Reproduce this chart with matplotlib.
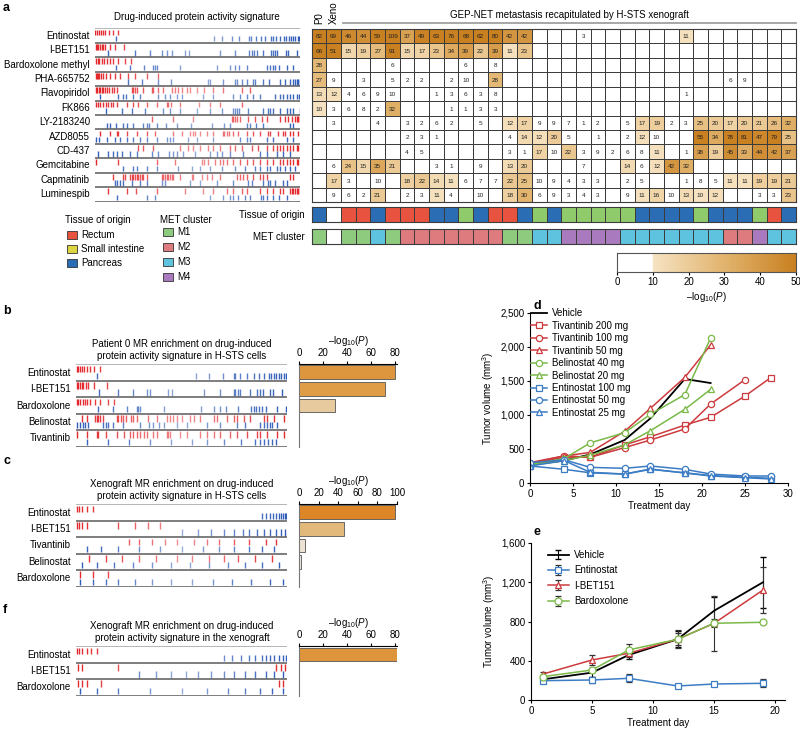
import numpy as np
import matplotlib
matplotlib.use("Agg")
import matplotlib.pyplot as plt
from matplotlib.colors import LinearSegmentedColormap, ListedColormap, to_rgba
from matplotlib.patches import Rectangle

W, H = 800, 735
plt.rcParams.update({
    "font.family": ["Liberation Sans", "DejaVu Sans"],
    "font.size": 6.5,
    "mathtext.fontset": "custom",
    "mathtext.rm": "Liberation Sans",
    "mathtext.it": "Liberation Sans:italic",
    "axes.linewidth": 0.8,
    "xtick.major.width": 0.8,
    "ytick.major.width": 0.8,
    "xtick.major.size": 2.5,
    "ytick.major.size": 2.5,
})
NEGLOG = "\u2013log$_{10}$($P$)"

# ---------------- panel a data ----------------
DRUGS_A = ["Entinostat", "I-BET151", "Bardoxolone methyl", "PHA-665752", "Flavopiridol", "FK866",
           "LY-2183240", "AZD8055", "CD-437", "Gemcitabine", "Capmatinib", "Luminespib"]

# rank positions (percent of signature) of the red (up) and blue (down) MRs
RED_A = [
    [0, 1, 2, 3, 4, 5, 7, 9, 11],
    [0.3, 1, 1.6, 2.4, 3.3, 4, 5, 7.3, 9.8, 14],
    [0.5, 1.3, 2.1, 3.3, 4.4, 5.7, 7.3, 8.9, 11.4, 14.6, 17.4],
    [0.3, 0.8, 1.5, 2.1, 2.9, 4.1, 5.4, 7.3, 9.8, 12.2, 16.3, 19.5, 25.2, 30.9],
    [0.3, 1.1, 1.8, 2.4, 3.3, 4.1, 4.9, 5.7, 7, 8.1, 9.3, 10.6, 17.9, 18.7, 19.5, 20.3, 23.6, 27.6,
     28.5, 30.9, 33.3, 37.4, 39, 40.7, 42.3, 44.7, 46.3, 49.9, 53.2, 57.7, 62.3, 71.5, 75.6],
    [0.5, 1.6, 2.4, 3.7, 5.4, 6.5, 7.6, 8.9, 10.6, 15.4, 18.7, 20.8, 25.2, 30.1, 35, 35.8, 36.9,
     41.5, 50.9, 56.1, 61, 71.5],
    [27.6, 38.2, 48, 66.7, 67.5, 68.3, 69.4, 70.7, 74.8, 78, 81.3, 83.7, 90.2, 92.7, 94.3, 95.9,
     97.6, 98.4, 99.2, 100],
    [2.4, 7.3, 10.6, 11.4, 15.4, 20.3, 25.2, 29.3, 38.2, 42.3, 46.3, 47.6, 48.8, 51.2, 54.5, 57.7,
     62.3, 62.9, 64.2, 65.5, 67.5, 69.9, 74, 77.2, 80.5, 84.6, 85.4, 89.4, 91.9, 92.7, 95.1, 96.7, 99.2],
    [21.1, 23.6, 28.5, 41.5, 45.5, 48, 51.2, 55.3, 57.7, 61, 65.9, 68.3, 71.5, 76.4, 79.7, 83.7, 87,
     88.6, 90.2, 91.9, 93.5, 95.1, 96.7, 98.4, 99.2],
    [0.5, 11.4, 30.1, 39, 52, 53.2, 55.3, 58.5, 61, 62.6, 64.2, 67.5, 70.7, 74, 77.2, 80.5, 83.7, 87,
     90.2, 91.9, 93.5, 95.1, 96.7, 98.4, 99.2],
    [8.9, 13.5, 14.6, 17.1, 17.9, 18.7, 19.5, 20.3, 21.1, 22, 22.8, 23.6, 25.2, 32.5, 33.3, 34.1, 35,
     35.8, 36.6, 37.4, 38.2, 41.5, 47.2, 48, 52, 54.5, 56.9, 61, 69.1, 70.7, 72.4, 74, 77.2, 80.5,
     82.1, 83.7, 95.1, 96.7],
    [6.5, 15.4, 20, 30.1, 43.9, 52.5, 57.7, 64.2, 67.5, 71.5, 74, 80.5, 83.7, 87, 90.2, 91.9, 95.1,
     95.9, 96.7, 97.6, 98.4, 99.2, 100],
]
BLUE_A = [
    [10, 58, 62, 67, 70, 75, 76, 78.5, 81, 83, 86, 87, 88.5, 90, 92, 93, 94.5, 95.5, 96.5, 97.5, 99, 99.7],
    [6.5, 19.5, 26.8, 32.5, 35, 37.4, 43.9, 46, 61, 68.3, 75.3, 76.4, 77.6, 78.9, 82.1, 85.7, 86.7,
     87.8, 88.6, 93.2, 94.3, 98.4],
    [10.2, 17.1, 23.9, 28.1, 29.3, 30.1, 41.5, 59.3, 65.9, 68.3, 70.4, 74, 83.7, 85.4, 86.7, 87.8,
     89.9, 93.8, 96.4],
    [16.3, 22.8, 30.9, 36.9, 55.3, 56.1, 62.3, 68.3, 69.4, 71.5, 74, 77.2, 78, 82.1, 85, 90.2, 92.7,
     95.1, 96.4, 97.6, 98.4, 99.2, 100],
    [2.4, 11.4, 13.5, 15.1, 18.7, 22, 30.9, 34.1, 36.6, 39.8, 42.3, 52.8, 57.7, 67.5, 70.7, 74, 77.2,
     80.5, 87.8, 90.2, 91.9, 93.5, 95.1, 96.7, 98.4, 99.7],
    [5.4, 13, 17.9, 24.4, 33.3, 36.6, 41.5, 49.6, 56.1, 61.8, 67.2, 68.3, 69.4, 70.4, 74.8, 82.1,
     84.6, 85.4, 87, 90.2, 93.5, 95.1, 96.7, 100],
    [6, 7.3, 10.2, 13.8, 15.4, 18.7, 23.3, 25.2, 26.5, 30.1, 34.6, 39.8, 46.7, 56.9, 62.9, 65.9, 74,
     75.6, 78.5, 82.1, 95.1, 96.7],
    [0.5, 2.1, 5.7, 9.8, 12.2, 15.4, 18.7, 22, 25.2, 30.1, 35, 36.6, 38.2, 45.5, 49.6, 57.7, 70.7, 74,
     75.6, 83.7, 87, 93.5, 96.7],
    [1.6, 6.5, 8.9, 10.6, 13, 17.1, 20.3, 27.6, 30.9, 36.3, 37.9, 39.8, 43.1, 48.8, 56.1, 59.3, 61.8,
     65.9, 72.4, 80.5, 83.7, 88.6, 91.9, 95.1],
    [13.5, 18.4, 20.3, 25.2, 30.1, 40.7, 47.2, 51.2, 56.1, 61.8, 68.3, 73.2, 78, 80.5, 83.7, 85.4,
     88.6, 90.2, 92.7, 95.1, 97.6],
    [9.8, 10.6, 12.2, 13.5, 17.9, 22, 25.2, 32.5, 34.1, 46.3, 51.2, 59.3, 67.5, 74.8, 76.4, 82.1,
     84.6, 85.4, 87.8, 91.9, 93.8],
    [10.6, 25.2, 29.3, 56.1, 62.6, 65.9, 67.5, 69.9, 73.2, 75.6, 80.8, 82.1, 83.7, 87, 89.9, 93.5],
]

# -log10(P) per drug (rows) and sample (columns: P0, Xeno, 31 metastases); 0 = not significant
HEAT = [
    [82, 99, 46, 44, 59, 109, 37, 49, 63, 76, 68, 62, 80, 42, 42, 0, 0, 0, 3, 0, 0, 0, 0, 0, 0, 11, 0, 0, 0, 0, 0, 0, 0],
    [66, 51, 15, 19, 27, 91, 15, 17, 23, 34, 39, 22, 39, 11, 23, 0, 0, 0, 0, 0, 0, 0, 0, 0, 0, 0, 0, 0, 0, 0, 0, 0, 0],
    [28, 0, 0, 0, 0, 6, 0, 0, 0, 0, 6, 0, 8, 0, 0, 0, 0, 0, 0, 0, 0, 0, 0, 0, 0, 0, 0, 0, 0, 0, 0, 0, 0],
    [27, 9, 0, 3, 0, 5, 2, 2, 0, 2, 9.6, 0, 28, 0, 0, 0, 0, 0, 0, 0, 0, 0, 0, 0, 0, 0, 0, 0, 6, 9, 0, 0, 0],
    [13, 12, 4, 6, 9, 9.6, 0, 0, 1, 3, 6, 3, 8, 0, 0, 0, 0, 0, 0, 0, 0, 0, 0, 0, 0, 1, 0, 0, 0, 0, 0, 0, 0],
    [10.4, 3, 6, 8, 2, 32, 0, 0, 0, 1, 1, 3, 3, 0, 0, 0, 0, 0, 0, 0, 0, 0, 0, 0, 0, 0, 0, 0, 0, 0, 0, 0, 0],
    [0, 3, 0, 0, 4, 0, 3, 2, 6, 2, 0, 5, 0, 12, 17, 9, 9, 7, 1, 2, 0, 5, 17, 19, 2, 3, 25, 20, 17, 20, 21, 26, 32],
    [0, 0, 0, 0, 0, 0, 2, 3, 1, 0, 0, 0, 0, 4, 14, 12, 20, 5, 0, 1, 0, 2, 12, 9.6, 0, 0, 55, 34, 78, 81, 47, 79, 25],
    [0, 0, 0, 0, 0, 0, 4, 5, 0, 0, 0, 0, 0, 3, 1, 17, 9.6, 22, 3, 9, 2, 6, 8, 11, 0, 1, 38, 19, 45, 33, 44, 42, 37],
    [0, 6, 24, 15, 35, 21, 0, 0, 3, 1, 0, 9, 0, 13, 20, 0, 0, 0, 7, 0, 0, 14, 6, 12, 42, 32, 0, 0, 0, 0, 0, 0, 0],
    [0, 17, 3, 0, 9.6, 0, 18, 22, 14, 11, 6, 7, 7, 22, 25, 9.6, 9, 4, 3, 3, 0, 2, 5, 0, 0, 1, 8, 5, 11, 11, 19, 19, 21],
    [0, 9, 6, 2, 21, 0, 2, 3, 11, 4, 0, 9.6, 0, 18, 30, 6, 9, 3, 4, 3, 0, 9, 11, 16, 9.6, 13, 10.4, 12, 0, 0, 3, 3, 23],
]
# 0 blank, 1 rectum, 2 small intestine, 3 pancreas
TISSUE = [3, 0, 1, 1, 3, 1, 1, 1, 3, 3, 2, 3, 1, 1, 3, 2, 3, 2, 2, 2, 2, 2, 3, 3, 3, 3, 2, 3, 3, 3, 2, 1, 3]
# 0 blank, 1..4 = M1..M4
MET = [1, 0, 1, 1, 3, 1, 2, 2, 2, 2, 2, 2, 2, 1, 1, 3, 3, 4, 4, 4, 4, 3, 3, 3, 3, 3, 3, 3, 2, 2, 4, 3, 3]
TISSUE_NAMES = ["Rectum", "Small intestine", "Pancreas"]
MET_NAMES = ["M1", "M2", "M3", "M4"]

# ---------------- panels b, c, f data ----------------
DRUGS_B = ["Entinostat", "I-BET151", "Bardoxolone", "Belinostat", "Tivantinib"]
SCORE_B = [80, 72, 30, 0, 0]
RED_B = [
    [0.3, 1.1, 1.9, 2.7, 3.8, 5.1, 6.6, 8.5, 11.4],
    [0.3, 1.1, 1.9, 2.7, 3.5, 4.7, 5.9, 8.5, 14.9],
    [0.3, 1.1, 1.9, 3.2, 4.3, 5.4, 6.6, 9, 11.4, 15.3, 18],
    [2.7, 5.4, 9, 9.8, 10.6, 11.4, 13, 19.3, 20.1, 21.2, 22.5, 23.7, 25.9, 27.2, 28.8, 34.3, 38.3, 43,
     44.6, 46.2, 47.8, 50.2, 54.1, 55.7, 58.9, 65.2, 66.8, 71.5, 74.7, 76.3, 79.4, 82.6, 88.9, 90.5, 93.7, 98.4],
    [0.6, 5.1, 9.8, 10.6, 14.2, 19.3, 22.8, 25.6, 27.2, 28.8, 30.4, 32, 33.5, 36.7, 38.3, 43, 43.8,
     44.6, 49.4, 52.5, 58.9, 62, 65.2, 68.4, 73.1, 76.3, 81, 85.8, 87.3, 90.5, 95.3, 98.4],
]
BLUE_B = [
    [9.8, 57, 62.8, 69.6, 74.7, 75.5, 77.5, 81, 84.2, 86.6, 88.9, 91.3, 92.4, 93.7, 94.9, 96, 97.2, 98.4, 99.4],
    [11.1, 20.1, 27.2, 33.5, 35.1, 43.8, 45.4, 60.8, 68.4, 74.7, 75.5, 76.6, 77.5, 82.3, 85.8, 87,
     88.6, 92.1, 93.4, 97.6],
    [10.6, 17.4, 24.4, 28.8, 29.6, 30.4, 41.5, 59.2, 65.2, 68.4, 71.2, 76.6, 82.9, 84.2, 85.4, 86.6,
     88.1, 90.2, 95.3, 99.7],
    [0.6, 1.9, 3.2, 4.3, 5.9, 13, 14.2, 15.3, 17.7, 22.5, 30.4, 34.8, 36.7, 39.1, 41.5, 47.8, 52.5,
     62, 68.4, 76.3, 80.2, 87.3, 88.9, 90.5, 91.8, 92.9, 95.3],
    [5, 15, 25, 35, 45, 55, 62, 70, 78, 85, 87, 89, 91, 93, 95],
]

DRUGS_C = ["Entinostat", "I-BET151", "Tivantinib", "Belinostat", "Bardoxolone"]
SCORE_C = [98, 46, 6, 2, 0]
RED_C = [
    [0.5, 1.5, 3, 5, 8],
    [0.5, 1.5, 3, 5, 20, 28, 34, 40],
    [25, 30, 36, 42, 48, 56, 62, 68, 75, 82, 90, 95],
    [6, 14, 22, 30, 38, 48, 55, 63, 70, 77, 85, 93],
    [2, 8, 15],
]
BLUE_C = [
    [88, 90, 92, 93.5, 95, 96, 97, 98, 99, 99.7],
    [50, 58, 64, 70, 75, 79, 82, 86, 89, 92, 95, 97, 99],
    [5, 12, 20, 30, 40, 50, 60, 68, 75, 82, 88, 94],
    [3, 10, 18, 27, 36, 45, 54, 63, 72, 80, 88, 96],
    [2, 8, 14, 20, 28, 36, 45, 55, 65, 74, 83, 92, 98],
]

DRUGS_F = ["Entinostat", "I-BET151", "Bardoxolone"]
SCORE_F = [82, 0, 0]
RED_F = [
    [0.5, 1.5, 3, 5, 7, 10],
    [1, 3, 20, 95, 97, 99],
    [1, 3, 5, 12, 96, 98],
]
BLUE_F = [
    [70, 74, 78, 82, 85, 88, 90, 92, 94, 96, 98, 99.5],
    [30, 38, 45, 52, 58, 64, 70, 75, 80, 85, 90, 94, 98],
    [2, 10, 20, 35, 50, 62, 72, 80, 87, 93, 98],
]

# ---------------- panel d data ----------------
D_LABELS = ["Vehicle", "Tivantinib 200 mg", "Tivantinib 100 mg", "Tivantinib 50 mg", "Belinostat 40 mg",
            "Belinostat 20 mg", "Entinostat 100 mg", "Entinostat 50 mg", "Entinostat 25 mg"]
D_DAYS = [
    [0, 4, 7, 11, 14, 18, 21],
    [0, 4, 7, 11, 14, 18, 21, 25, 28],
    [0, 4, 7, 11, 14, 18, 21, 25],
    [0, 4, 7, 11, 14, 18, 21],
    [0, 4, 7, 11, 14, 18, 21],
    [0, 4, 7, 11, 14, 18, 21],
    [0, 4, 7, 11, 14, 18, 21, 25, 28],
    [0, 4, 7, 11, 14, 18, 21, 25, 28],
    [0, 4, 7, 11, 14, 18, 21, 25, 28],
]
D_VOL = [
    [270, 330, 420, 632, 951, 1530, 1470],
    [280, 380, 380, 560, 680, 852, 966, 1279, 1550],
    [300, 400, 377, 520, 632, 794, 1161, 1520],
    [290, 397, 450, 760, 1098, 1553, 2030],
    [270, 360, 590, 740, 1010, 1300, 2130],
    [260, 330, 410, 560, 769, 1083, 1377],
    [250, 201, 150, 130, 200, 150, 110, 85, 70],
    [298, 340, 230, 216, 250, 201, 132, 103, 103],
    [250, 328, 157, 132, 206, 147, 103, 78, 59],
]

# ---------------- panel e data ----------------
E_LABELS = ["Vehicle", "Entinostat", "I-BET151", "Bardoxolone"]
E_DAYS = [1, 5, 8, 12, 15, 19]
E_VOL = [
    [211, 279, 459, 619, 910, 1200],
    [197, 204, 221, 143, 163, 170],
    [265, 408, 476, 619, 782, 1121],
    [238, 306, 510, 619, 782, 792],
]
E_ERR = [
    [30, 40, 40, 80, 140, 260],
    [20, 30, 40, 20, 20, 40],
    [20, 50, 40, 90, 280, 230],
    [20, 20, 57, 60, 40, 20],
]

# ---------------- styles ----------------
RED = "#E3262B"
BLUE = "#2E5CB8"
TISSUE_COLORS = ["#FFFFFF", "#E8533F", "#8FCB6B", "#2A6DB5"]
TISSUE_LEGEND = ["#E8533F", "#DDD441", "#2A6DB5"]
MET_COLORS = ["#FFFFFF", "#8FCB7E", "#DE7B7E", "#5EC3DF", "#A97BBE"]
SERIES_COLORS = {"Vehicle": "black", "Tivantinib": "#CC3B3E", "Belinostat": "#7AB948",
                 "Entinostat": "#3B7CC4", "I-BET151": "#CC3B3E", "Bardoxolone": "#7AB948"}

grad = LinearSegmentedColormap.from_list("g", ["#F6E3C2", "#E2B46E", "#C98020"])
cm_list = [(1, 1, 1, 1) if i < 100 else grad(min(1.0, (i - 100) / 400)) for i in range(500)]
HEAT_CMAP = ListedColormap(cm_list)
BAR_CMAP = LinearSegmentedColormap.from_list("b", ["#EEE9E2", "#E6C696", "#DFA24E", "#DD8425"])

fig = plt.figure(figsize=(W / 100, H / 100), dpi=100)


def px_axes(x0, y0, x1, y1):
    return fig.add_axes([x0 / W, 1 - y1 / H, (x1 - x0) / W, (y1 - y0) / H])


def tick_colors(base, pos):
    return [to_rgba(base, 0.5 + 0.5 * abs(p / 100 - 0.5) * 2) for p in pos]


def draw_barcode(ax, labels, reds, blues, label_pad=0.025):
    n = len(labels)
    for i, (r, b) in enumerate(zip(reds, blues)):
        ax.vlines(np.asarray(r) / 100, i + 0.08, i + 0.48, colors=tick_colors(RED, r), lw=1.0)
        ax.vlines(np.asarray(b) / 100, i + 0.52, i + 0.9, colors=tick_colors(BLUE, b), lw=1.0)
        ax.text(-label_pad, i + 0.5, labels[i], ha="right", va="center", fontsize=7)
    ax.hlines(np.arange(1, n + 1), 0, 1, color="#5a5a5a", lw=1.1)
    ax.hlines(0, 0, 1, color="#b0b0b0", lw=1.3)
    ax.set_xlim(0, 1)
    ax.set_ylim(n + 0.03, -0.03)
    ax.axis("off")


def draw_bars(ax, scores, xmax, ticks):
    n = len(scores)
    y = np.arange(n) + 0.5
    ax.barh(y, scores, height=0.82, color=[BAR_CMAP(s / 100) for s in scores],
            edgecolor="#555555", linewidth=0.6)
    ax.set_xlim(0, xmax)
    ax.set_ylim(n, 0)
    for s in ["right", "bottom"]:
        ax.spines[s].set_visible(False)
    ax.spines["left"].set_color("#777777")
    ax.xaxis.tick_top()
    ax.xaxis.set_label_position("top")
    ax.set_xticks(ticks)
    ax.set_yticks([])
    ax.tick_params(axis="x", labelsize=7, pad=1.5)
    ax.set_xlabel(NEGLOG, fontsize=7, labelpad=3)


# ================= panel a =================
fig.text(3 / W, 1 - 8 / H, "a", fontsize=9, fontweight="bold", va="center")
ax = px_axes(95, 28, 300, 202)
draw_barcode(ax, DRUGS_A, RED_A, BLUE_A)
fig.text(197 / W, 1 - 17 / H, "Drug-induced protein activity signature", ha="center", va="center", fontsize=7)

heat = np.array(HEAT, dtype=float)
nr, nc = heat.shape
axh = px_axes(311.7, 29, 796, 202)
axh.pcolormesh(heat, cmap=HEAT_CMAP, vmin=0, vmax=50, edgecolors="#3c3c3c", linewidth=0.7)
for i in range(nr):
    for j in range(nc):
        if heat[i, j] > 0:
            axh.text(j + 0.5, i + 0.55, f"{heat[i, j]:.0f}", ha="center", va="center", fontsize=4.6,
                     color="#222222")
axh.set_xlim(0, nc)
axh.set_ylim(nr, 0)
axh.set_xticks([])
axh.set_yticks([])
for s in axh.spines.values():
    s.set_color("#3c3c3c")

fig.text(319 / W, 1 - 24 / H, "P0", rotation=90, ha="center", va="bottom", fontsize=7)
fig.text(333.5 / W, 1 - 24 / H, "Xeno", rotation=90, ha="center", va="bottom", fontsize=7)
fig.text(569 / W, 1 - 15 / H, "GEP-NET metastasis recapitulated by H-STS xenograft", ha="center",
         va="center", fontsize=7)
fig.add_artist(plt.Line2D([343 / W, 796 / W], [1 - 23.3 / H, 1 - 23.3 / H], color="#a0a0a0", lw=1.3))

axt = px_axes(311.7, 206.7, 796, 221.7)
axt.pcolormesh(np.array([TISSUE]), cmap=ListedColormap(TISSUE_COLORS), vmin=-0.5, vmax=3.5,
               edgecolors="#3c3c3c", linewidth=0.7)
axm = px_axes(311.7, 229.3, 796, 244.3)
axm.pcolormesh(np.array([MET]), cmap=ListedColormap(MET_COLORS), vmin=-0.5, vmax=4.5,
               edgecolors="#3c3c3c", linewidth=0.7)
for a_ in (axt, axm):
    a_.set_xticks([])
    a_.set_yticks([])
    for s in a_.spines.values():
        s.set_color("#3c3c3c")
fig.text(305 / W, 1 - 214.5 / H, "Tissue of origin", ha="right", va="center", fontsize=7)
fig.text(305 / W, 1 - 237 / H, "MET cluster", ha="right", va="center", fontsize=7)

axc = px_axes(617, 252.7, 796, 271.7)
axc.imshow(np.linspace(0, 50, 500)[None, :], cmap=HEAT_CMAP, vmin=0, vmax=50, aspect="auto",
           extent=(0, 50, 0, 1))
axc.set_yticks([])
axc.set_xticks([0, 10, 20, 30, 40, 50])
axc.tick_params(axis="x", labelsize=7, pad=1.5)
axc.set_xlabel(NEGLOG, fontsize=7, labelpad=2)
for s in axc.spines.values():
    s.set_color("#555555")

# legends
fig.text(65 / W, 1 - 220 / H, "Tissue of origin", ha="left", va="center", fontsize=7)
for k, (name, col) in enumerate(zip(TISSUE_NAMES, TISSUE_LEGEND)):
    yy = 234.5 + 14.3 * k
    fig.add_artist(Rectangle((67 / W, 1 - (yy + 4) / H), 10 / W, 8 / H, facecolor=col,
                             edgecolor="#333333", lw=0.6, transform=fig.transFigure))
    fig.text(81 / W, 1 - yy / H, name, ha="left", va="center", fontsize=7)
fig.text(160.5 / W, 1 - 220 / H, "MET cluster", ha="left", va="center", fontsize=7)
for k, (name, col) in enumerate(zip(MET_NAMES, MET_COLORS[1:])):
    yy = 232 + 15 * k
    fig.add_artist(Rectangle((163 / W, 1 - (yy + 4) / H), 10 / W, 8 / H, facecolor=col,
                             edgecolor="#333333", lw=0.6, transform=fig.transFigure))
    fig.text(177 / W, 1 - yy / H, name, ha="left", va="center", fontsize=7)

# ================= panel b =================
fig.text(3 / W, 1 - 311 / H, "b", fontsize=9, fontweight="bold", va="center")
fig.text(182 / W, 1 - 350 / H, "Patient 0 MR enrichment on drug-induced\nprotein activity signature in H-STS cells",
         ha="center", va="center", fontsize=7, linespacing=1.15)
ax = px_axes(76, 364, 287, 447)
draw_barcode(ax, DRUGS_B, RED_B, BLUE_B)
ax = px_axes(299, 364, 397, 447)
draw_bars(ax, SCORE_B, 82, [0, 20, 40, 60, 80])

# ================= panel c =================
fig.text(3 / W, 1 - 461 / H, "c", fontsize=9, fontweight="bold", va="center")
fig.text(182 / W, 1 - 490 / H, "Xenograft MR enrichment on drug-induced\nprotein activity signature in H-STS cells",
         ha="center", va="center", fontsize=7, linespacing=1.15)
ax = px_axes(76, 504, 287, 587)
draw_barcode(ax, DRUGS_C, RED_C, BLUE_C)
ax = px_axes(299, 504, 397, 587)
draw_bars(ax, SCORE_C, 100, [0, 20, 40, 60, 80, 100])

# ================= panel f =================
fig.text(3 / W, 1 - 610 / H, "f", fontsize=9, fontweight="bold", va="center")
fig.text(182 / W, 1 - 632 / H, "Xenograft MR enrichment on drug-induced\nprotein activity signature in the xenograft",
         ha="center", va="center", fontsize=7, linespacing=1.15)
ax = px_axes(76, 646, 287, 696)
draw_barcode(ax, DRUGS_F, RED_F, BLUE_F)
ax = px_axes(299, 646, 397, 696)
draw_bars(ax, SCORE_F, 82, [0, 20, 40, 60, 80])

# ================= panel d =================
fig.text(533 / W, 1 - 306 / H, "d", fontsize=9, fontweight="bold", va="center")
axd = px_axes(530, 313, 788, 483)
for lab, days, vol in zip(D_LABELS, D_DAYS, D_VOL):
    drug = lab.split()[0]
    col = SERIES_COLORS[drug]
    if lab == "Vehicle":
        axd.plot(days, vol, color="black", lw=1.3, label=lab)
        continue
    dose = lab.split()[1]
    if drug == "Tivantinib":
        mk = {"200": "s", "100": "o", "50": "^"}[dose]
    elif drug == "Belinostat":
        mk = {"40": "o", "20": "^"}[dose]
    else:
        mk = {"100": "s", "50": "o", "25": "^"}[dose]
    axd.plot(days, vol, color=col, lw=1.1, marker=mk, ms=4.5, mfc="white", mec=col, mew=0.9, label=lab)
axd.set_xlim(0, 30)
axd.set_ylim(0, 2500)
axd.set_xticks(range(0, 31, 5))
axd.set_yticks(range(0, 2501, 500))
axd.set_yticklabels([f"{v:,}" for v in range(0, 2501, 500)])
axd.set_xlabel("Treatment day", fontsize=7, labelpad=2)
axd.set_ylabel("Tumor volume (mm$^3$)", fontsize=7, labelpad=3)
axd.tick_params(labelsize=7, pad=1.5)
axd.spines["top"].set_visible(False)
axd.spines["right"].set_visible(False)
axd.legend(loc="upper left", bbox_to_anchor=(-0.01, 1.05), frameon=False, fontsize=7, handlelength=1.6,
           handletextpad=0.5, labelspacing=0.25, borderaxespad=0)

# ================= panel e =================
fig.text(533 / W, 1 - 532 / H, "e", fontsize=9, fontweight="bold", va="center")
axe = px_axes(531, 543, 785, 700)
e_markers = ["", "s", "^", "o"]
for lab, vol, err, mk in zip(E_LABELS, E_VOL, E_ERR, e_markers):
    col = SERIES_COLORS[lab]
    if lab == "Vehicle":
        axe.errorbar(E_DAYS, vol, yerr=err, color="black", lw=1.3, capsize=2, elinewidth=0.8, label=lab)
    else:
        axe.errorbar(E_DAYS, vol, yerr=err, color=col, lw=1.1, marker=mk, ms=5, mfc="white", mec=col,
                     mew=0.9, capsize=2, elinewidth=0.8, ecolor="#333333", label=lab)
axe.set_xlim(0, 20.8)
axe.set_ylim(0, 1600)
axe.set_xticks([0, 5, 10, 15, 20])
axe.set_yticks([0, 400, 800, 1200, 1600])
axe.set_yticklabels([f"{v:,}" for v in [0, 400, 800, 1200, 1600]])
axe.set_xlabel("Treatment day", fontsize=7, labelpad=2)
axe.set_ylabel("Tumor volume (mm$^3$)", fontsize=7, labelpad=3)
axe.tick_params(labelsize=7, pad=1.5)
axe.spines["top"].set_visible(False)
axe.spines["right"].set_visible(False)
axe.legend(loc="upper left", bbox_to_anchor=(0.05, 0.98), frameon=False, fontsize=7, handlelength=2.2,
           handletextpad=0.5, labelspacing=0.55, borderaxespad=0)

fig.savefig("out.png", dpi=100)
